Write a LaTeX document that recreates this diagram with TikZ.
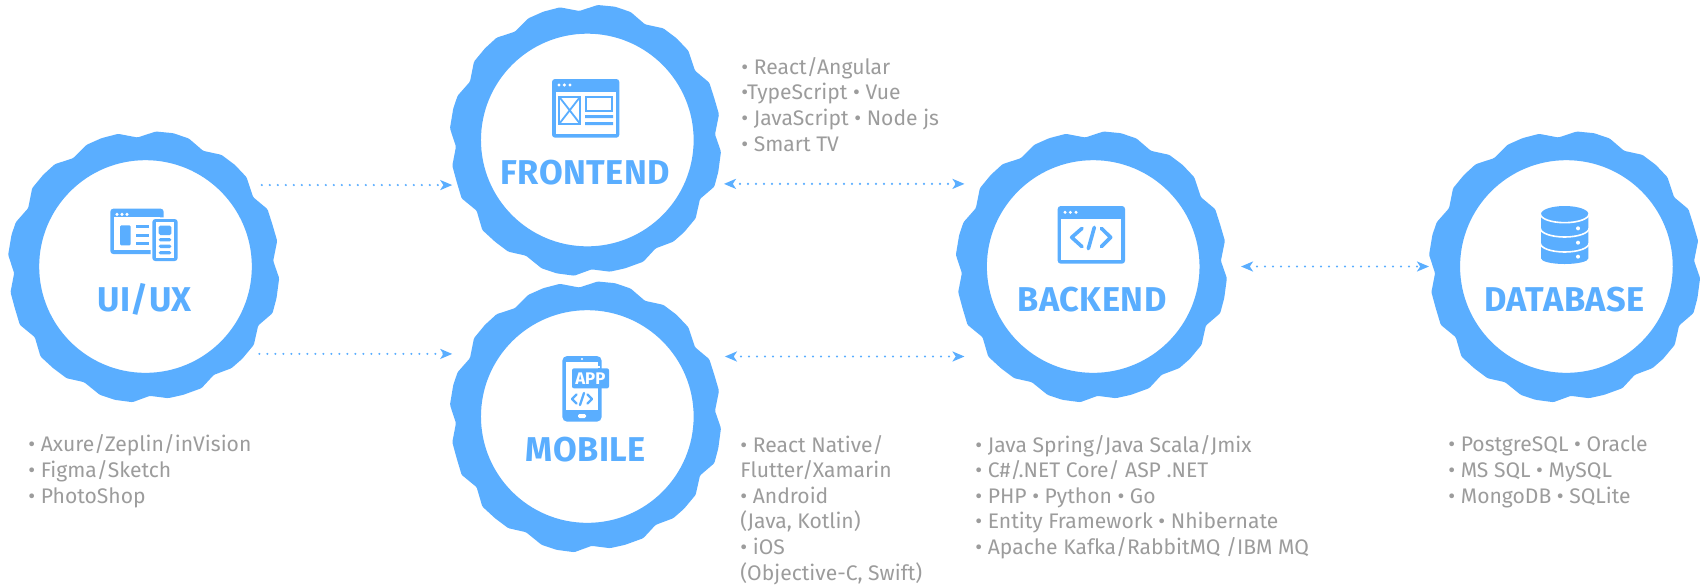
\documentclass[tikz,border=0pt]{standalone}
\usepackage{fontspec}
\usetikzlibrary{arrows.meta,calc}
\setmainfont{Fira Sans}
\definecolor{brand}{HTML}{5AAEFF}
\definecolor{copytext}{HTML}{9C9C9C}
\tikzset{
  ringnode/.style={circle,minimum size=142pt,inner sep=0pt,outer sep=0pt},
  heading/.style={font=\fontsize{17.2}{18}\selectfont\bfseries\addfontfeature{LetterSpace=1.5},text=brand,anchor=base,inner sep=0pt},
  listing/.style={font=\fontsize{10.55}{12.8}\selectfont,text=copytext,anchor=base west,align=left,inner sep=0pt},
  link/.style={draw=brand,line width=1.15pt,line cap=round,dash pattern=on 0pt off 4pt},
  tipa/.style={-{Stealth[length=6pt,width=5pt,inset=1.6pt]}},
  tipb/.style={{Stealth[length=6pt,width=5pt,inset=1.6pt]}-{Stealth[length=6pt,width=5pt,inset=1.6pt]}},
  zoomed/.style={x=0.16667pt,y=-0.16667pt},
  ringoutline/.style={insert path={
    (403,33)--(458,15)--(510,20)--(557,36)--(600,73)--(655,85)--(695,115)--(730,152)--(750,212)--(793,248)--(808,295)--(822,343)--(810,403)--(828,455)--(820,515)--(808,560)--(765,597)--(752,655)--(717,697)--(685,725)--(632,745)--(595,785)--(540,805)--(495,815)--(440,808)--(388,827)--(335,820)--(290,805)--(243,767)--(190,755)--(150,725)--(112,690)--(95,632)--(50,595)--(35,545)--(22,497)--(33,440)--(15,385)--(25,325)--(38,287)--(75,245)--(87,185)--(120,145)--(155,113)--(210,95)--(250,55)--(295,35)--(345,22)--cycle
    (427,420) circle (319)
  }}
}
\newcommand{\ringat}[2]{%
  \begin{scope}[shift={(#1-142.33,#2-140)},zoomed]
    \fill[brand,even odd rule,rounded corners=0.6pt,ringoutline];
  \end{scope}}
\begin{document}
\begin{tikzpicture}[x=0.5pt,y=-0.5pt]
\useasboundingbox (0,0) rectangle (1702,585);
\fill[white] (0,0) rectangle (1702,585);
% rings
\ringat{145.5}{266.5}\ringat{587.3}{140}\ringat{587.3}{416.5}\ringat{1093.2}{266.5}\ringat{1566.4}{266.5}
\node[ringnode] (uiux) at (145.5,266.5) {};
\node[ringnode] (frontend) at (587.3,140) {};
\node[ringnode] (mobile) at (587.3,416.5) {};
\node[ringnode] (backend) at (1093.2,266.5) {};
\node[ringnode] (database) at (1566.4,266.5) {};
% headings
\node[heading] (tuiux) at (144.5,311) {UI/UX};
\node[heading] (tfrontend) at (585.5,184.5) {FRONTEND};
\node[heading] (tmobile) at (586,461.5) {MOBILE};
\node[heading] (tbackend) at (1092,311) {BACKEND};
\node[heading] (tdatabase) at (1564.5,311) {DATABASE};
% connectors
\draw[link,tipa] (uiux.35.8) -- (uiux.35.8 -| frontend.162);
\draw[link,tipa,shorten <=1pt] (uiux.-38) -- (uiux.-38 -| mobile.198);
\draw[link,tipb,shorten <=0.8pt] (frontend.-18) -- (frontend.-18 -| backend.155.5);
\draw[link,tipb,shorten <=4.45pt] (mobile.25.8) -- (mobile.25.8 -| backend.155.5);
\draw[link,tipb,shorten <=2.9pt,shorten >=-2.3pt] (backend.east) -- (database.west);
% lists
\node[listing] (luiux) at (28,503) {• Axure/Zeplin/inVision\\• Figma/Sketch\\• PhotoShop};
\node[listing] (lfrontend) at (741,151) {• React/Angular\\•TypeScript • Vue\\• JavaScript • Node js\\• Smart TV};
\node[listing] (lmobile) at (740,580) {• React Native/\\Flutter/Xamarin\\• Android\\(Java, Kotlin)\\• iOS\\(Objective-C, Swift)};
\node[listing] (lbackend) at (975,554.5) {• Java Spring/Java Scala/Jmix\\• C\#/.NET Core/ ASP .NET\\• PHP • Python • Go\\• Entity Framework • Nhibernate\\• Apache Kafka/RabbitMQ /IBM MQ};
\node[listing] (ldatabase) at (1448,503) {• PostgreSQL • Oracle\\• MS SQL • MySQL\\• MongoDB • SQLite};
% UI/UX icon
\begin{scope}[shift={(0,110)},zoomed]
  \fill[brand,rounded corners=1.5pt] (331,296) rectangle (491,432);
  \fill[white] (342,322) rectangle (480,420);
  \foreach \d in {351,366,381} \fill[white] (\d,313) circle (5);
  \fill[brand,rounded corners=0.6pt] (360,346) rectangle (392,406);
  \foreach \d in {350,376,400} \fill[brand] (408,\d-5) rectangle (448,\d+5);
  \fill[white,rounded corners=1.5pt] (452,322) rectangle (538,458);
  \fill[brand,rounded corners=1.5pt] (457,327) rectangle (533,453);
  \fill[white] (467,337) rectangle (523,443);
  \fill[brand,rounded corners=0.8pt] (476,347) rectangle (514,375);
  \foreach \d in {389,409,428} \fill[brand,rounded corners=0.8pt] (476,\d-5) rectangle (514,\d+5);
\end{scope}
% FRONTEND icon
\begin{scope}[shift={(445,0)},zoomed]
  \fill[brand,rounded corners=1.5pt] (321,237) rectangle (523,413);
  \fill[white] (332,275) rectangle (512,403);
  \foreach \d in {342,358,375} \fill[white] (\d,255) circle (5);
  \draw[brand,line width=1.1pt] (343,291) rectangle (405,371);
  \draw[brand,line width=0.9pt] (343,291) -- (405,371) (405,291) -- (343,371);
  \draw[brand,line width=1.1pt] (423,291) rectangle (501,332);
  \fill[brand] (420,345) rectangle (504,354) (420,366) rectangle (504,375);
\end{scope}
% MOBILE icon
\begin{scope}[shift={(400,255)},zoomed]
  \fill[brand,rounded corners=2.4pt] (487,303) rectangle (605,500);
  \fill[white] (498,320) rectangle (594,466);
  \fill[white] (546,312) circle (3.5);
  \fill[white,rounded corners=0.7pt] (534,477) rectangle (558,489);
  \fill[white] (510,334) rectangle (600,340);
  \fill[brand,rounded corners=1pt] (516,340) rectangle (627,400);
  \node[font=\fontsize{8.4}{9}\selectfont\bfseries,text=white,inner sep=0pt] (appbadge) at (571,370) {APP};
  \draw[brand,line width=1.15pt,line cap=round,line join=round] (530,418)--(516,432)--(530,446) (552,414)--(540,450) (562,418)--(576,432)--(562,446);
\end{scope}
% BACKEND icon
\begin{scope}[shift={(880,120)},zoomed]
  \fill[brand,rounded corners=1.5pt] (533,258) rectangle (735,431);
  \fill[white] (544,296) rectangle (724,419);
  \foreach \d in {555,571,588} \fill[white] (\d,277) circle (5);
  \draw[brand,line width=1.8pt,line cap=round,line join=round] (606,325)--(575,352)--(606,380) (643,322)--(625,386) (664,325)--(692,352)--(664,380);
\end{scope}
% DATABASE icon
\begin{scope}[shift={(1430,190)},zoomed]
  \fill[brand] (333,72) arc[start angle=180,end angle=0,x radius=71,y radius=-24] -- (475,205) arc[start angle=0,end angle=-180,x radius=71,y radius=-17] -- cycle;
  \foreach \d in {72,115,160} \draw[white,line width=0.8pt] (331,\d) arc[start angle=180,end angle=360,x radius=73,y radius=-26];
  \foreach \d in {115,158,200} \fill[white] (444,\d) circle (6);
\end{scope}
\end{tikzpicture}
\end{document}
